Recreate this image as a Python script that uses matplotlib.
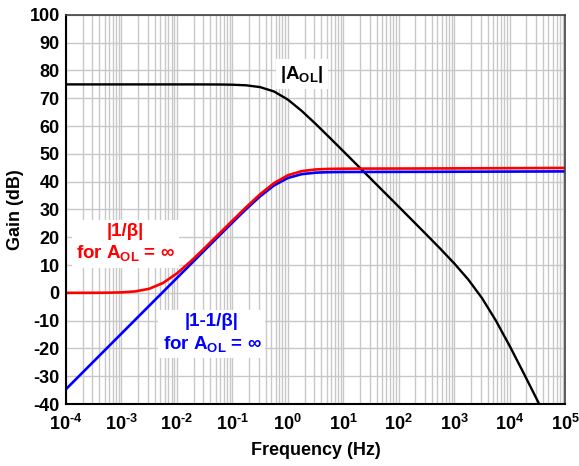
import matplotlib
matplotlib.use("Agg")
import matplotlib.pyplot as plt
from matplotlib.ticker import LogLocator, NullFormatter, FixedLocator

plt.rcParams['font.family'] = ['Liberation Sans', 'DejaVu Sans']
plt.rcParams['mathtext.fontset'] = 'custom'
plt.rcParams['mathtext.rm'] = 'Liberation Sans:bold'
plt.rcParams['mathtext.bf'] = 'Liberation Sans:bold'
plt.rcParams['mathtext.it'] = 'Liberation Sans:bold'

# Frequencies (Hz), quarter-decade steps from 1e-4 to 1e5
freq = [1e-4, 1.778e-4, 3.162e-4, 5.623e-4,
        1e-3, 1.778e-3, 3.162e-3, 5.623e-3,
        1e-2, 1.778e-2, 3.162e-2, 5.623e-2,
        1e-1, 1.778e-1, 3.162e-1, 5.623e-1,
        1e0, 1.778e0, 3.162e0, 5.623e0,
        1e1, 1.778e1, 3.162e1, 5.623e1,
        1e2, 1.778e2, 3.162e2, 5.623e2,
        1e3, 1.778e3, 3.162e3, 5.623e3,
        1e4, 1.778e4, 3.162e4, 5.623e4,
        1e5]

# |A_OL| (dB)
aol = [75.00, 75.00, 75.00, 75.00,
       75.00, 75.00, 75.00, 75.00,
       75.00, 75.00, 74.99, 74.97,
       74.89, 74.67, 74.02, 72.46,
       69.54, 65.47, 60.82, 55.93,
       50.97, 45.98, 40.98, 35.99,
       30.99, 25.98, 20.95, 15.87,
       10.61, 4.88, -1.84, -9.93,
       -19.09, -28.79, -38.69, -48.66,
       -58.65]

# |1/beta| for A_OL = inf (dB)
inv_beta = [0.00, 0.01, 0.02, 0.05,
            0.17, 0.52, 1.46, 3.55,
            6.99, 11.35, 16.12, 21.04,
            25.97, 30.84, 35.47, 39.47,
            42.30, 43.79, 44.39, 44.60,
            44.67, 44.70, 44.71, 44.72,
            44.73, 44.74, 44.76, 44.77,
            44.79, 44.80, 44.82, 44.84,
            44.86, 44.88, 44.90, 44.92,
            44.95]

# |1-1/beta| for A_OL = inf (dB)
one_minus_inv_beta = [-34.65, -29.65, -24.65, -19.65,
                      -14.65, -9.65, -4.65, 0.35,
                      5.35, 10.35, 15.34, 20.33,
                      25.28, 30.15, 34.73, 38.64,
                      41.33, 42.70, 43.24, 43.43,
                      43.49, 43.50, 43.51, 43.52,
                      43.53, 43.54, 43.55, 43.56,
                      43.58, 43.59, 43.60, 43.62,
                      43.63, 43.65, 43.66, 43.68,
                      43.70]

xticks = [1e-4, 1e-3, 1e-2, 1e-1, 1e0, 1e1, 1e2, 1e3, 1e4, 1e5]
xticklabels = [r'$\mathbf{10^{\text{-}4}}$', r'$\mathbf{10^{\text{-}3}}$',
               r'$\mathbf{10^{\text{-}2}}$', r'$\mathbf{10^{\text{-}1}}$',
               r'$\mathbf{10^{0}}$', r'$\mathbf{10^{1}}$',
               r'$\mathbf{10^{2}}$', r'$\mathbf{10^{3}}$', r'$\mathbf{10^{4}}$',
               r'$\mathbf{10^{5}}$']
yticks = [-40, -30, -20, -10, 0, 10, 20, 30, 40, 50, 60, 70, 80, 90, 100]

fig = plt.figure(figsize=(5.79, 4.66), dpi=100)
ax = fig.add_axes([0.114, 0.133, 0.862, 0.835])

ax.set_xscale('log')
ax.set_xlim(1e-4, 1e5)
ax.set_ylim(-40, 100)

ax.xaxis.set_major_locator(FixedLocator(xticks))
ax.xaxis.set_minor_locator(LogLocator(base=10, subs=range(2, 10), numticks=100))
ax.xaxis.set_minor_formatter(NullFormatter())
ax.set_xticks(xticks)
ax.set_xticklabels(xticklabels)
ax.set_yticks(yticks)
ax.set_yticklabels([str(v) for v in yticks])

ax.grid(True, which='major', color='#c8c8c8', linewidth=1.0)
ax.grid(True, which='minor', axis='x', color='#c8c8c8', linewidth=1.0)
ax.set_axisbelow(True)

ax.tick_params(which='both', length=0)
ax.tick_params(axis='x', labelsize=13, pad=7)
ax.tick_params(axis='y', labelsize=13, pad=4.5)
for lbl in ax.get_yticklabels():
    lbl.set_fontweight('bold')

for side in ['left', 'bottom']:
    ax.spines[side].set_color('black')
    ax.spines[side].set_linewidth(1.5)
for side in ['top', 'right']:
    ax.spines[side].set_color('#404040')
    ax.spines[side].set_linewidth(1.2)

ax.plot(freq, aol, color='black', linewidth=1.7)
ax.plot(freq, one_minus_inv_beta, color='#0000ff', linewidth=1.9)
ax.plot(freq, inv_beta, color='#ff0000', linewidth=1.9)

ax.set_xlabel('Frequency (Hz)', fontsize=13, fontweight='bold', labelpad=6)
ax.set_ylabel('Gain (dB)', fontsize=13, fontweight='bold', labelpad=4)

box = dict(facecolor='white', edgecolor='none', pad=3)
ax.text(1.78, 78.7, r'$\mathbf{|A_{OL}|}$', fontsize=13.5, color='black',
        ha='center', va='center', bbox=box)
ax.text(1.16e-3, 17.9, '|1/β|\nfor $\\mathbf{A_{OL}}$ = ∞', fontsize=13.5,
        fontweight='bold', color='#ff0000', ha='center', va='center',
        linespacing=1.25, bbox=box)
ax.text(4.27e-2, -14.6, '|1-1/β|\nfor $\\mathbf{A_{OL}}$ = ∞', fontsize=13.5,
        fontweight='bold', color='#0000ff', ha='center', va='center',
        linespacing=1.25, bbox=box)

fig.savefig('out.png', dpi=100)
